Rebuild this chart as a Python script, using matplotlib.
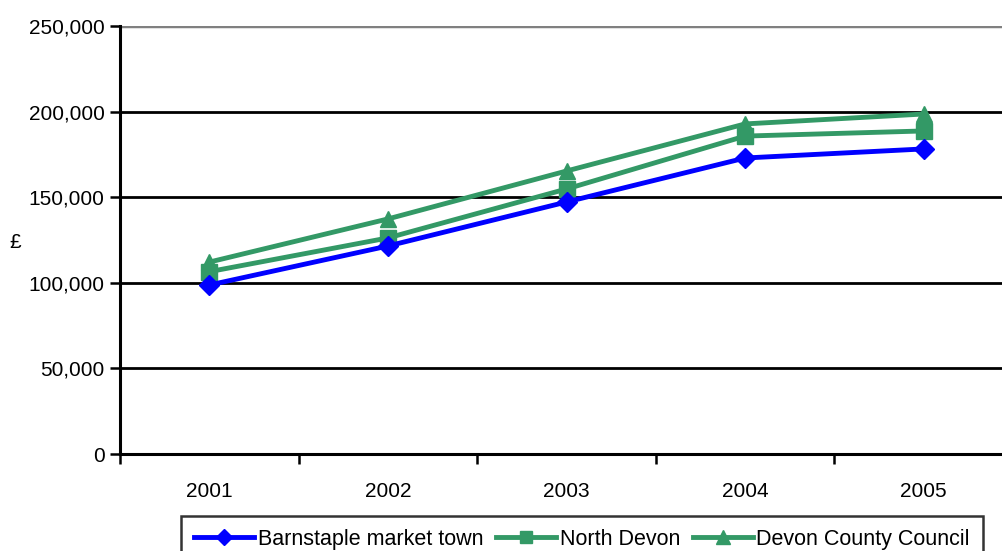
import matplotlib
matplotlib.use("Agg")
import matplotlib.pyplot as plt
from matplotlib.ticker import FuncFormatter
import numpy as np

plt.rcParams["font.family"] = ["Liberation Sans", "DejaVu Sans"]

years = ["2001", "2002", "2003", "2004", "2005"]
barnstaple = [98700, 121500, 147200, 172900, 178200]
north_devon = [106500, 126200, 154800, 185700, 188700]
devon_cc = [112100, 137300, 165300, 192800, 198600]

BLUE = "#0000FF"
GREEN = "#339966"

fig = plt.figure(figsize=(10.02, 5.51), dpi=100)
ax = fig.add_axes([120 / 1002, 97 / 551, 893 / 1002, 428 / 551])

x = np.arange(len(years))
ax.plot(x, barnstaple, color=BLUE, lw=3.5, marker="D", ms=10,
        label="Barnstaple market town", zorder=5)
ax.plot(x, north_devon, color=GREEN, lw=3.5, marker="s", ms=11,
        label="North Devon", zorder=4)
ax.plot(x, devon_cc, color=GREEN, lw=3.5, marker="^", ms=12,
        label="Devon County Council", zorder=3)

ax.set_xlim(-0.5, len(years) - 0.5)
ax.set_ylim(0, 250000)
ax.set_yticks(np.arange(0, 250001, 50000))
ax.yaxis.set_major_formatter(FuncFormatter(lambda v, _: f"{int(v):,}"))
ax.set_xticks(x)
ax.set_xticklabels(years)
ax.set_xticks(np.arange(-0.5, len(years), 1.0), minor=True)
ax.tick_params(axis="x", which="major", length=0, pad=20, labelsize=15)
ax.tick_params(axis="x", which="minor", length=7, width=1.8, color="black")
ax.tick_params(axis="y", length=7, width=1.8, labelsize=15, pad=4)

ax.grid(axis="y", color="black", lw=2)
# top edge of the plot area is grey rather than black
ax.axhline(250000, color="#808080", lw=2.5, zorder=2)

ax.spines["top"].set_visible(False)
ax.spines["right"].set_visible(False)
ax.spines["left"].set_linewidth(2.2)
ax.spines["bottom"].set_linewidth(2.2)

fig.text(15 / 1002, 1 - 243 / 551, "£", fontsize=15, ha="center", va="center")

leg = fig.legend(loc="upper center", bbox_to_anchor=(582 / 1002, 1 - 516 / 551),
                 ncol=3, fontsize=15.5, frameon=True, fancybox=False,
                 edgecolor="black", handlelength=2.8, handletextpad=0.15,
                 columnspacing=0.6, borderpad=0.6, borderaxespad=0,
                 markerscale=0.8)
leg.get_frame().set_linewidth(1.8)

fig.savefig("out.png", dpi=100)
